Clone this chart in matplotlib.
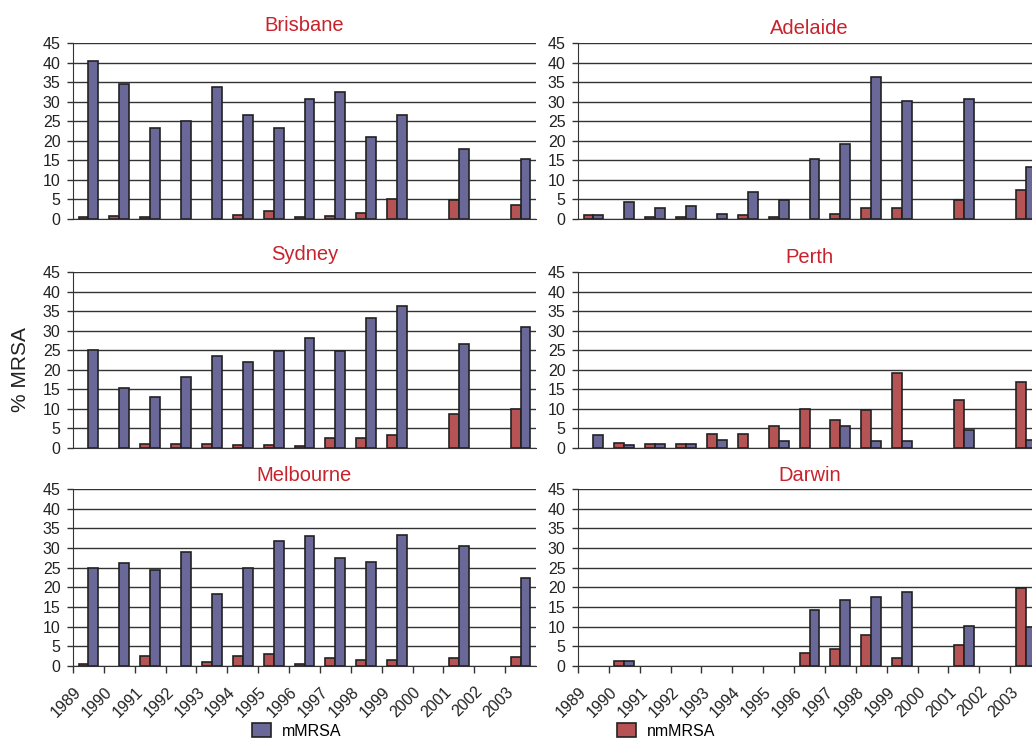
import matplotlib.pyplot as plt
import matplotlib.transforms as mtransforms
from matplotlib.patches import Patch
import numpy as np

plt.rcParams['font.family'] = ['Liberation Sans', 'DejaVu Sans']

years = ['1989', '1990', '1991', '1992', '1993', '1994', '1995', '1996',
         '1997', '1998', '1999', '2000', '2001', '2002', '2003']

# mMRSA (blue) and nmMRSA (red) per city, 0 = no bar
brisbane_m = [40.4, 34.4, 23.2, 25.0, 33.7, 26.7, 23.2, 30.6, 32.4, 20.9, 26.7, 0, 18.0, 0, 15.4]
brisbane_nm = [0.5, 0.8, 0.5, 0, 0, 1.0, 2.0, 0.5, 0.8, 1.5, 5.2, 0, 4.8, 0, 3.6]
adelaide_m = [0.9, 4.4, 2.9, 3.3, 1.4, 6.8, 4.8, 15.4, 19.2, 36.3, 30.2, 0, 30.6, 0, 13.3]
adelaide_nm = [0.9, 0, 0.5, 0.5, 0, 1.0, 0.6, 0, 1.2, 2.9, 2.9, 0, 4.8, 0, 7.3]
sydney_m = [25.0, 15.3, 13.0, 18.2, 23.5, 21.9, 24.7, 28.1, 24.7, 33.2, 36.2, 0, 26.7, 0, 30.9]
sydney_nm = [0, 0, 0.9, 0.9, 0.9, 0.7, 0.7, 0.4, 2.5, 2.6, 3.4, 0, 8.6, 0, 10.0]
perth_m = [3.2, 0.85, 0.9, 0.9, 2.0, 0, 1.7, 0, 5.5, 1.7, 1.7, 0, 4.5, 0, 2.1]
perth_nm = [0, 1.4, 0.9, 0.9, 3.5, 3.5, 5.5, 10.0, 7.1, 9.6, 19.2, 0, 12.4, 0, 16.8]
melbourne_m = [24.8, 26.3, 24.4, 29.1, 18.2, 24.8, 31.9, 33.0, 27.4, 26.4, 33.3, 0, 30.5, 0, 22.4]
melbourne_nm = [0.6, 0, 2.6, 0, 1.0, 2.6, 3.0, 0.4, 2.1, 1.4, 1.6, 0, 2.1, 0, 2.3]
darwin_m = [0, 1.2, 0, 0, 0, 0, 0, 14.2, 16.7, 17.5, 18.7, 0, 10.1, 0, 9.8]
darwin_nm = [0, 1.2, 0, 0, 0, 0, 0, 3.3, 4.2, 7.8, 2.1, 0, 5.3, 0, 19.8]

cities = ['Brisbane', 'Adelaide', 'Sydney', 'Perth', 'Melbourne', 'Darwin']
m_data = [brisbane_m, adelaide_m, sydney_m, perth_m, melbourne_m, darwin_m]
nm_data = [brisbane_nm, adelaide_nm, sydney_nm, perth_nm, melbourne_nm, darwin_nm]

blue = '#6A6899'
red = '#B65455'
edge = '#222222'
title_red = '#C8232C'
grid_col = '#333333'

fig = plt.figure(figsize=(10.32, 7.39), dpi=100)
W, H = 1032, 739

# axes rectangles in pixels: (left, right) per column, (top, bottom) per row
lefts = [(73, 536), (578, 1041)]
rows = [(43, 219), (272, 448), (489, 666)]
title_pads = [8.6, 6.5, 8.6, 6.5, 5.5, 5.5]

x = np.arange(len(years)) + 0.5
bw = 0.32

for i, city in enumerate(cities):
    r, c = divmod(i, 2)
    l, rr = lefts[c]
    t, b = rows[r]
    ax = fig.add_axes([l / W, 1 - b / H, (rr - l) / W, (b - t) / H])
    m = np.array(m_data[i], dtype=float)
    nm = np.array(nm_data[i], dtype=float)
    m[m == 0] = np.nan
    nm[nm == 0] = np.nan
    ax.bar(x - bw / 2, nm, bw, color=red, edgecolor=edge, linewidth=1.2, zorder=3)
    ax.bar(x + bw / 2, m, bw, color=blue, edgecolor=edge, linewidth=1.2, zorder=3)
    ax.set_xlim(0, len(years))
    ax.set_ylim(0, 45)
    ax.set_yticks(range(0, 46, 5))
    ax.yaxis.grid(True, color=grid_col, linewidth=1)
    ax.set_axisbelow(True)
    for s in ['top', 'right']:
        ax.spines[s].set_visible(False)
    ax.spines['left'].set_color(grid_col)
    ax.spines['bottom'].set_color(grid_col)
    ax.tick_params(axis='y', length=4, width=1, color=grid_col, pad=5,
                   labelsize=11.5, labelcolor='#222222')
    if r == 2:
        ax.set_xticks(np.arange(len(years)))
        ax.set_xticklabels(years, rotation=45, ha='right', fontsize=11.5, color='#222222')
        ax.tick_params(axis='x', length=5, width=1, color=grid_col, pad=8)
        offset = mtransforms.ScaledTranslation(8 / 72, 0, fig.dpi_scale_trans)
        for lab in ax.get_xticklabels():
            lab.set_transform(lab.get_transform() + offset)
    else:
        ax.set_xticks([])
    ax.set_title(city, color=title_red, fontsize=14.5, pad=title_pads[i])

fig.text(20 / W, 1 - 370 / H, '% MRSA', rotation=90, fontsize=15,
         ha='center', va='center', color='#222222')

h_m = Patch(facecolor=blue, edgecolor=edge, linewidth=1.2)
h_nm = Patch(facecolor=red, edgecolor=edge, linewidth=1.2)
fig.legend([h_m], ['mMRSA'], loc='upper left', bbox_to_anchor=(252 / W, 1 - 723 / H),
           frameon=False, fontsize=11.5, borderpad=0, borderaxespad=0,
           handlelength=1.2, handleheight=1.0, handletextpad=0.65)
fig.legend([h_nm], ['nmMRSA'], loc='upper left', bbox_to_anchor=(617 / W, 1 - 723 / H),
           frameon=False, fontsize=11.5, borderpad=0, borderaxespad=0,
           handlelength=1.2, handleheight=1.0, handletextpad=0.65)

fig.savefig('out.png', dpi=100)
